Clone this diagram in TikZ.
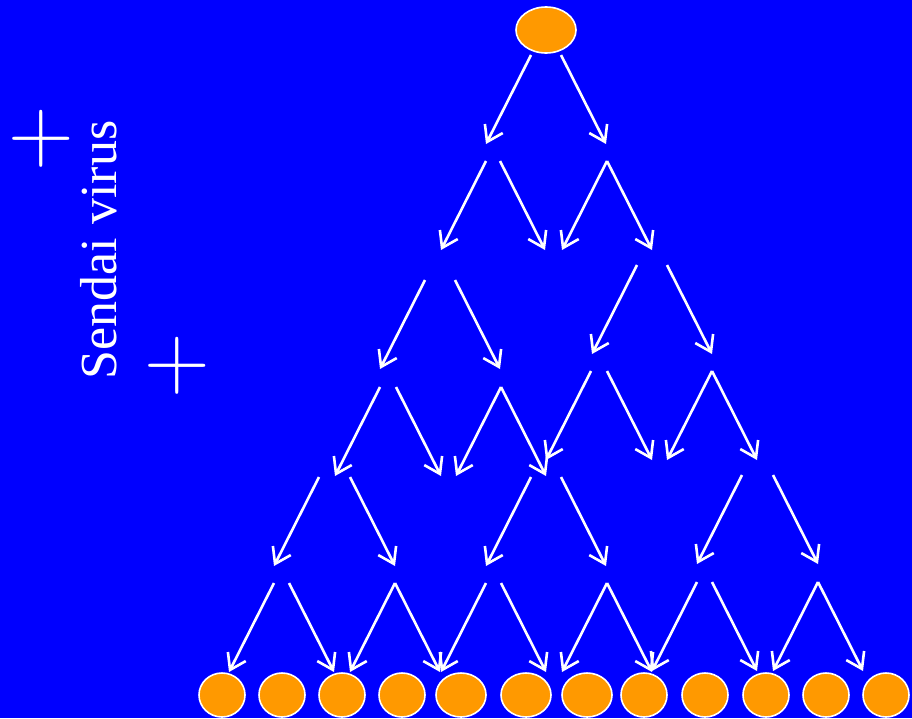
\documentclass[tikz,border=0pt]{standalone}
\usepackage{fontspec}
\setmainfont{Liberation Serif}
\newfontfamily\plusfont{Latin Modern Roman}
\usetikzlibrary{shapes.geometric, arrows.meta}
\definecolor{slideblue}{HTML}{0000FF}
\definecolor{cellorange}{HTML}{FF9900}
\tikzset{
  cell/.style  = {ellipse, draw=white, line width=1.6pt,
                  fill=cellorange, inner sep=0pt,
                  minimum width=46pt, minimum height=44pt},
  arr/.style   = {-{Straight Barb[length=15pt, width=20pt]},
                  draw=white, line width=2.6pt},
  plus/.style  = {text=white, inner sep=0pt,
                  font=\plusfont\fontsize{91}{91}\selectfont},
  virus/.style = {text=white, inner sep=0pt, rotate=90, anchor=base,
                  font=\fontsize{52}{52}\selectfont},
}

\begin{document}
\begin{tikzpicture}[x=1pt, y=-1pt]

% ── Background ───────────────────────────────────────────
\fill[slideblue] (0,0) rectangle (912,718);
\useasboundingbox (0,0) rectangle (912,718);

% ── Parent cell ──────────────────────────────────────────
\node[cell, minimum width=60pt, minimum height=46pt] (parent) at (546,30) {};

% ── Daughter cells ───────────────────────────────────────
\foreach \x/\w [count=\i] in {222/46, 282/46, 342/46, 402/46, 461/50, 526/50,
                              587/50, 644/46, 705/46, 766/46, 826/46, 886/46}
  \node[cell, minimum width=\w pt] (c\i) at (\x,695) {};

% ── Divisions (start x / start y / direction) ────────────
\foreach \x/\y/\dir [count=\i] in {
    531/55/-1, 561/55/1,
    486/161/-1, 500/161/1, 607/161/-1, 607/161/1,
    425/280/-1, 455/280/1, 637/265/-1, 667/265/1,
    380/387/-1, 396/387/1, 501/387/-1, 501/387/1,
    591/371/-1, 607/371/1, 712/371/-1, 712/371/1,
    319/477/-1, 350/477/1, 531/477/-1, 561/477/1, 742/475/-1, 773/475/1,
    274/583/-1, 289/583/1, 395/583/-1, 395/583/1, 486/583/-1, 501/583/1,
    607/583/-1, 607/583/1, 697/582/-1, 712/582/1, 818/582/-1, 818/582/1}
{
  \coordinate (s\i) at (\x,\y);
  \coordinate (e\i) at ([shift={(\dir*45,89)}]s\i);
  \draw[arr] (s\i) -- (e\i);
}

% ── Labels ───────────────────────────────────────────────
\node[plus] (plusA) at (41,139) {+};
\node[plus] (plusB) at (177,366) {+};
\node[virus] (sendai) at (116,250) {Sendai virus};

\end{tikzpicture}
\end{document}
